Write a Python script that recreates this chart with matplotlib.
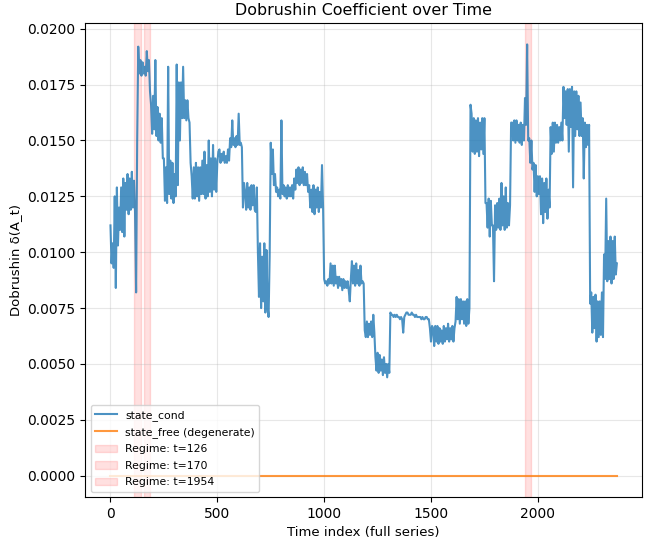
import numpy as np
import matplotlib.pyplot as plt

# time index, sampled every 5 steps of the full series
time_idx = np.arange(0, 2371, 5)

# Dobrushin coefficient for the conditioned state
state_cond = [
    0.0112, 0.0095, 0.0104, 0.0093, 0.0125, 0.0084, 0.0129, 0.0103, 0.0120, 0.0110,
    0.0129, 0.0109, 0.0133, 0.0107, 0.0131, 0.0119, 0.0135, 0.0117, 0.0133, 0.0119,
    0.0136, 0.0120, 0.0132, 0.0118, 0.0082, 0.0150, 0.0192, 0.0180, 0.0186, 0.0179,
    0.0185, 0.0180, 0.0183, 0.0179, 0.0190, 0.0181, 0.0186, 0.0172, 0.0166, 0.0153,
    0.0170, 0.0155, 0.0186, 0.0152, 0.0165, 0.0150, 0.0162, 0.0149, 0.0160, 0.0142,
    0.0142, 0.0123, 0.0138, 0.0122, 0.0183, 0.0126, 0.0141, 0.0124, 0.0140, 0.0122,
    0.0135, 0.0125, 0.0184, 0.0130, 0.0176, 0.0150, 0.0176, 0.0160, 0.0183, 0.0160,
    0.0168, 0.0159, 0.0168, 0.0160, 0.0158, 0.0140, 0.0134, 0.0124, 0.0138, 0.0124,
    0.0140, 0.0125, 0.0138, 0.0123, 0.0138, 0.0126, 0.0141, 0.0126, 0.0145, 0.0124,
    0.0139, 0.0125, 0.0150, 0.0127, 0.0142, 0.0125, 0.0148, 0.0128, 0.0142, 0.0127,
    0.0140, 0.0145, 0.0146, 0.0140, 0.0144, 0.0141, 0.0145, 0.0140, 0.0143, 0.0140,
    0.0146, 0.0141, 0.0151, 0.0147, 0.0159, 0.0148, 0.0151, 0.0147, 0.0152, 0.0148,
    0.0162, 0.0148, 0.0149, 0.0147, 0.0120, 0.0131, 0.0127, 0.0119, 0.0131, 0.0120,
    0.0129, 0.0119, 0.0130, 0.0121, 0.0130, 0.0119, 0.0118, 0.0129, 0.0100, 0.0080,
    0.0104, 0.0075, 0.0098, 0.0078, 0.0104, 0.0073, 0.0101, 0.0076, 0.0071, 0.0098,
    0.0149, 0.0135, 0.0146, 0.0130, 0.0135, 0.0127, 0.0129, 0.0125, 0.0128, 0.0124,
    0.0159, 0.0126, 0.0130, 0.0125, 0.0129, 0.0124, 0.0130, 0.0125, 0.0129, 0.0125,
    0.0130, 0.0124, 0.0133, 0.0128, 0.0137, 0.0131, 0.0138, 0.0130, 0.0137, 0.0131,
    0.0138, 0.0130, 0.0136, 0.0130, 0.0135, 0.0127, 0.0130, 0.0120, 0.0128, 0.0118,
    0.0130, 0.0117, 0.0128, 0.0120, 0.0129, 0.0118, 0.0127, 0.0120, 0.0139, 0.0120,
    0.0088, 0.0086, 0.0087, 0.0085, 0.0088, 0.0086, 0.0095, 0.0086, 0.0094, 0.0085,
    0.0094, 0.0086, 0.0089, 0.0084, 0.0089, 0.0085, 0.0088, 0.0083, 0.0088, 0.0084,
    0.0087, 0.0084, 0.0087, 0.0083, 0.0078, 0.0088, 0.0096, 0.0086, 0.0094, 0.0085,
    0.0095, 0.0086, 0.0092, 0.0085, 0.0094, 0.0086, 0.0087, 0.0086, 0.0065, 0.0062,
    0.0069, 0.0062, 0.0068, 0.0063, 0.0069, 0.0062, 0.0072, 0.0064, 0.0053, 0.0047,
    0.0055, 0.0046, 0.0054, 0.0047, 0.0052, 0.0045, 0.0053, 0.0046, 0.0050, 0.0044,
    0.0050, 0.0046, 0.0073, 0.0072, 0.0072, 0.0071, 0.0072, 0.0071, 0.0072, 0.0071,
    0.0071, 0.0070, 0.0071, 0.0070, 0.0064, 0.0071, 0.0072, 0.0073, 0.0073, 0.0072,
    0.0072, 0.0072, 0.0073, 0.0072, 0.0072, 0.0071, 0.0072, 0.0071, 0.0071, 0.0071,
    0.0071, 0.0070, 0.0071, 0.0070, 0.0070, 0.0071, 0.0071, 0.0070, 0.0070, 0.0066,
    0.0060, 0.0067, 0.0066, 0.0058, 0.0067, 0.0060, 0.0067, 0.0059, 0.0066, 0.0060,
    0.0065, 0.0059, 0.0067, 0.0060, 0.0066, 0.0061, 0.0068, 0.0060, 0.0066, 0.0061,
    0.0067, 0.0060, 0.0066, 0.0069, 0.0080, 0.0070, 0.0079, 0.0068, 0.0079, 0.0070,
    0.0078, 0.0068, 0.0078, 0.0067, 0.0079, 0.0068, 0.0075, 0.0166, 0.0162, 0.0145,
    0.0160, 0.0144, 0.0159, 0.0145, 0.0160, 0.0143, 0.0158, 0.0146, 0.0160, 0.0144,
    0.0160, 0.0122, 0.0122, 0.0111, 0.0124, 0.0107, 0.0123, 0.0112, 0.0112, 0.0087,
    0.0121, 0.0110, 0.0122, 0.0111, 0.0124, 0.0110, 0.0131, 0.0112, 0.0125, 0.0110,
    0.0129, 0.0111, 0.0122, 0.0112, 0.0121, 0.0158, 0.0158, 0.0150, 0.0159, 0.0149,
    0.0159, 0.0150, 0.0157, 0.0149, 0.0158, 0.0148, 0.0157, 0.0150, 0.0169, 0.0157,
    0.0193, 0.0150, 0.0151, 0.0140, 0.0150, 0.0137, 0.0140, 0.0127, 0.0139, 0.0125,
    0.0134, 0.0126, 0.0134, 0.0117, 0.0133, 0.0113, 0.0131, 0.0118, 0.0133, 0.0115,
    0.0128, 0.0120, 0.0156, 0.0144, 0.0158, 0.0145, 0.0158, 0.0149, 0.0157, 0.0149,
    0.0156, 0.0150, 0.0158, 0.0150, 0.0174, 0.0160, 0.0172, 0.0157, 0.0173, 0.0145,
    0.0173, 0.0156, 0.0174, 0.0129, 0.0172, 0.0152, 0.0172, 0.0155, 0.0170, 0.0152,
    0.0167, 0.0152, 0.0160, 0.0133, 0.0158, 0.0147, 0.0157, 0.0148, 0.0157, 0.0077,
    0.0082, 0.0064, 0.0080, 0.0066, 0.0081, 0.0060, 0.0078, 0.0062, 0.0078, 0.0063,
    0.0082, 0.0062, 0.0099, 0.0088, 0.0124, 0.0087, 0.0105, 0.0088, 0.0107, 0.0086,
    0.0105, 0.0088, 0.0107, 0.0090, 0.0095,
]

# free state collapses to zero everywhere
state_free = [0.0] * len(time_idx)

# detected regime changes
regime_times = [126, 170, 1954]


def plot_dobrushin():
    """ Plot both Dobrushin series with the regime markers """
    fig, ax = plt.subplots(figsize=(6.5, 5.44), dpi=100)
    ax.plot(time_idx, state_cond, label='state_cond', alpha=0.8)
    ax.plot(time_idx, state_free, label='state_free (degenerate)', alpha=0.8)
    for t in regime_times:
        ax.axvspan(t - 15, t + 15, color='red', alpha=0.12, label=f'Regime: t={t}')
    ax.set_title('Dobrushin Coefficient over Time', fontsize=11.4)
    ax.set_xlabel('Time index (full series)', fontsize=9.5)
    ax.set_ylabel('Dobrushin δ(A_t)', fontsize=9.5)
    ax.grid(True, alpha=0.3)
    ax.legend(loc='lower left', fontsize=7.8, labelspacing=0.6)
    fig.subplots_adjust(left=0.131, right=0.988, top=0.958, bottom=0.086)
    fig.savefig('out.png', dpi=100)


if __name__ == "__main__":
    plot_dobrushin()
